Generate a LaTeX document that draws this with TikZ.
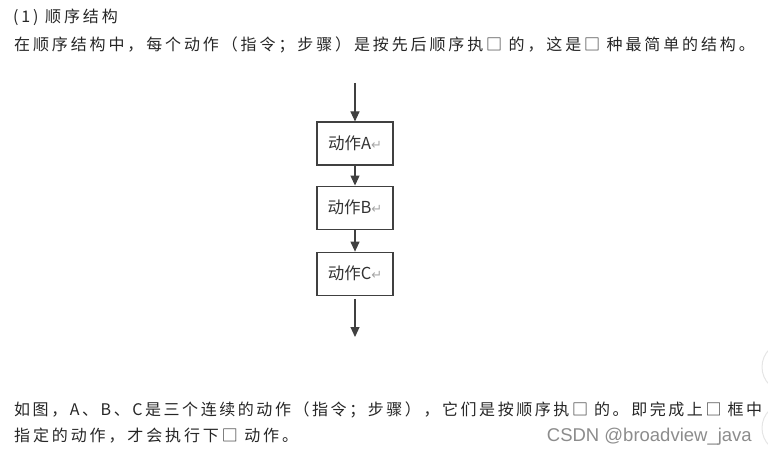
\documentclass[tikz,border=0pt]{standalone}
\usepackage{fontspec}
\usepackage{xcolor}
\usepackage{tikz}
\usetikzlibrary{arrows.meta, positioning}

\newfontfamily\cjk{Noto Sans CJK SC}
\newfontfamily\cjkwide[LetterSpace=18]{Noto Sans CJK SC}
\newfontfamily\cjknarrow[LetterSpace=16]{Noto Sans CJK SC}
\newfontfamily\markfont{Liberation Sans}
\newfontfamily\arrowfont{DejaVu Sans}
\newcommand{\retmark}{{\color{black!35}\arrowfont\fontsize{13}{13}\selectfont ↵}}

\begin{document}
\begin{tikzpicture}[
  x=1pt, y=1pt,
  node distance=20pt,
  action/.style={rectangle, draw=black!75, line width=1.1pt, minimum width=76pt, minimum height=43pt,
                 inner sep=0pt, align=center, text=black!80, font=\cjk\fontsize{16.5}{16.5}\selectfont},
  para/.style={anchor=west, inner sep=0pt, text=black!85, font=\cjkwide\fontsize{16}{16}\selectfont},
  watermark/.style={anchor=east, inner sep=0pt, text=black!45, font=\markfont\fontsize{18.5}{18.5}\selectfont},
  arr/.style={-{Triangle[width=9pt,length=10pt]}, draw=black!75, line width=1.1pt},
]
  \useasboundingbox (0,0) rectangle (768,-457);
  \node[para] (title) at (13,-17) {(1) 顺序结构};
  \node[para] (intro) at (14,-45) {在顺序结构中，每个动作（指令；步骤）是按先后顺序执□ 的，这是□ 种最简单的结构。};
  \node[action] (actA) at (355,-143.5) {动作A\retmark};
  \node[action, below=of actA] (actB) {动作B\retmark};
  \node[action, below=22pt of actB] (actC) {动作C\retmark};
  \coordinate (in) at (355,-83);
  \coordinate (out) at (355,-337);
  \draw[arr] (in) -- (actA);
  \draw[arr] (actA) -- (actB);
  \draw[arr] (actB) -- (actC);
  \draw[arr] ([yshift=-3pt]actC.south) -- (out);
  \node[para, font=\cjknarrow\fontsize{16}{16}\selectfont] (explain) at (14,-410)
    {如图，A、B、C是三个连续的动作（指令；步骤），它们是按顺序执□ 的。即完成上□ 框中};
  \node[para] (explain2) at (14,-436) {指定的动作，才会执行下□ 动作。};
  \node[watermark] (wm) at (752,-437) {CSDN @broadview\_java};
  % faint rings at the right edge
  \draw[black!10, line width=1pt] (787,-367) circle (25);
  \draw[black!10, line width=1pt] (787,-428) circle (25);
\end{tikzpicture}
\end{document}
